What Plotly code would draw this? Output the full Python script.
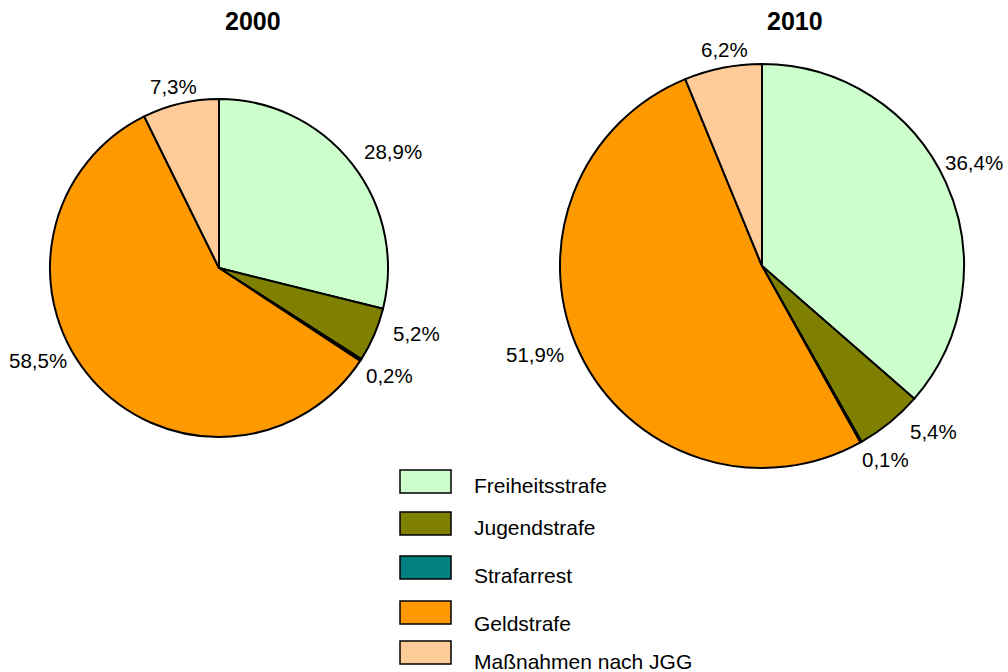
import plotly.graph_objects as go

categories = ["Freiheitsstrafe", "Jugendstrafe", "Strafarrest", "Geldstrafe", "Maßnahmen nach JGG"]
values_2000 = [28.9, 5.2, 0.2, 58.5, 7.3]
values_2010 = [36.4, 5.4, 0.1, 51.9, 6.2]
years = ["2000", "2010"]
colors = ["#CCFFCC", "#808000", "#008080", "#FF9900", "#FFCC99"]

W, H = 1008, 672
FONT = "Liberation Sans, Arial, sans-serif"

def px_x(x):
    return x / W

def px_y(y):
    return 1 - y / H

# pie boxes (cx, cy, r) in page pixels
boxes = [(219, 268, 169), (762, 266, 202)]
# value label centres in page pixels, one list per pie
label_pos = [
    [(393, 152), (416, 333), (389, 375), (38, 360), (173, 87)],
    [(974, 162), (933, 431), (885, 459), (535, 354), (724, 50)],
]
title_pos = [(253, 21), (795, 21)]
legend_rect_top = [470, 512, 556, 601, 641]
legend_text_y = [485, 527, 575, 623, 661]

fig = go.Figure()
annotations = []
for vals, (cx, cy, r), lpos in zip([values_2000, values_2010], boxes, label_pos):
    fig.add_trace(go.Pie(
        labels=categories,
        values=vals,
        sort=False,
        direction="clockwise",
        rotation=0,
        marker=dict(colors=colors, line=dict(color="black", width=2)),
        textinfo="none",
        showlegend=False,
        hoverinfo="label+value",
        domain=dict(x=[px_x(cx - r), px_x(cx + r)], y=[px_y(cy + r), px_y(cy - r)]),
    ))
    for v, (lx, ly) in zip(vals, lpos):
        annotations.append(dict(
            x=px_x(lx), y=px_y(ly), xref="paper", yref="paper",
            text=("%.1f%%" % v).replace(".", ","),
            showarrow=False, font=dict(family=FONT, size=20.5, color="black"),
            xanchor="center", yanchor="middle"))

for yr, (tx, ty) in zip(years, title_pos):
    annotations.append(dict(
        x=px_x(tx), y=px_y(ty), xref="paper", yref="paper", text="<b>%s</b>" % yr,
        showarrow=False, font=dict(family=FONT, size=25, color="black"),
        xanchor="center", yanchor="middle"))

shapes = []
for cat, col, top, ty in zip(categories, colors, legend_rect_top, legend_text_y):
    shapes.append(dict(type="rect", xref="paper", yref="paper",
                       x0=px_x(400), x1=px_x(451), y0=px_y(top + 23), y1=px_y(top),
                       fillcolor=col, line=dict(color="black", width=1.5)))
    annotations.append(dict(
        x=px_x(472), y=px_y(ty), xref="paper", yref="paper", text=cat,
        showarrow=False, font=dict(family=FONT, size=21, color="black"),
        xanchor="left", yanchor="middle"))

fig.update_layout(
    width=W, height=H,
    margin=dict(l=0, r=0, t=0, b=0),
    paper_bgcolor="white", plot_bgcolor="white",
    annotations=annotations,
    shapes=shapes,
)

fig.write_html(
    "out.html",
    config={"displayModeBar": False},
    post_script="document.body.style.margin='0px';document.body.style.overflow='hidden';",
)
